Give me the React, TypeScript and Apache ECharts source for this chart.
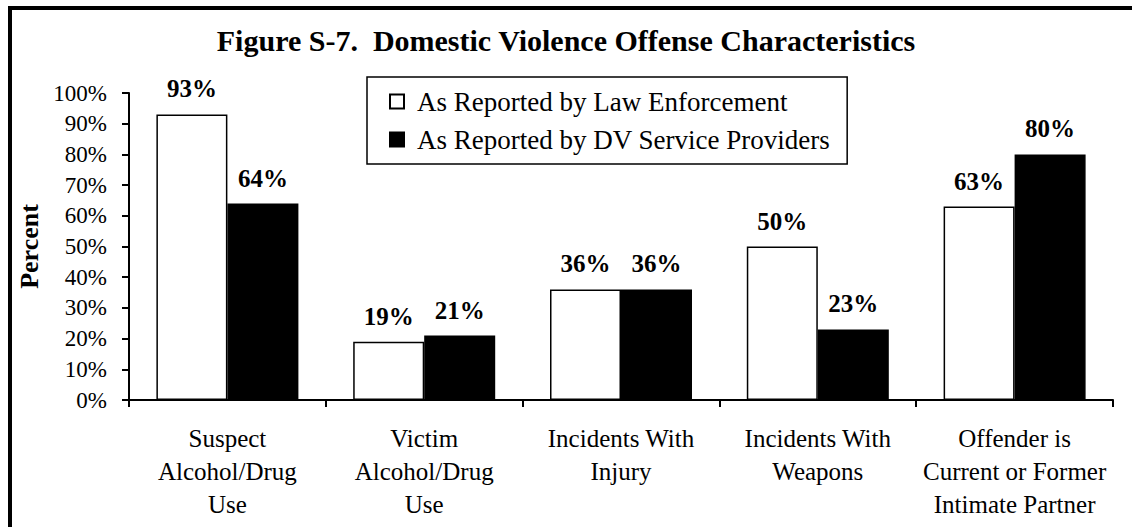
import React, { useEffect, useRef } from "react";
import * as echarts from "echarts";

const categories = [
  "Suspect\nAlcohol/Drug\nUse",
  "Victim\nAlcohol/Drug\nUse",
  "Incidents With\nInjury",
  "Incidents With\nWeapons",
  "Offender is\nCurrent or Former\nIntimate Partner",
];
const lawEnforcement = [93, 19, 36, 50, 63];
const dvProviders = [64, 21, 36, 23, 80];
const seriesNames = ["As Reported by Law Enforcement", "As Reported by DV Service Providers"];
const titleText = "Figure S-7.  Domestic Violence Offense Characteristics";
const yAxisName = "Percent";

const FONT = "Liberation Serif";

export default function App() {
  const ref = useRef<HTMLDivElement>(null);
  useEffect(() => {
    if (!ref.current) return;
    const chart = echarts.init(ref.current, null, { renderer: "svg" });
    const valueLabel = {
      show: true,
      position: "top",
      distance: 13,
      formatter: "{c}%",
      fontFamily: FONT,
      fontWeight: "bold",
      fontSize: 25,
      color: "#000",
    };
    chart.setOption({
      animation: false,
      backgroundColor: "#fff",
      textStyle: { fontFamily: FONT },
      title: {
        text: titleText,
        left: "center",
        top: 20,
        textStyle: { fontFamily: FONT, fontWeight: "bold", fontSize: 30, color: "#000" },
      },
      legend: {
        orient: "vertical",
        left: 367,
        top: 77,
        padding: [11, 17, 11, 22],
        itemGap: 11,
        itemWidth: 14,
        itemHeight: 14,
        borderColor: "#000",
        borderWidth: 1.5,
        backgroundColor: "#fff",
        icon: "rect",
        textStyle: { fontFamily: FONT, fontSize: 27, color: "#000", padding: [0, 0, 0, 8] },
        data: seriesNames,
      },
      grid: { left: 129, right: 19, top: 93, bottom: 127 },
      xAxis: {
        type: "category",
        data: categories,
        axisLine: { lineStyle: { color: "#000", width: 2 } },
        axisTick: { show: true, length: 7, lineStyle: { color: "#000", width: 2 } },
        axisLabel: {
          interval: 0,
          margin: 22,
          fontFamily: FONT,
          fontSize: 25,
          lineHeight: 33,
          color: "#000",
        },
      },
      yAxis: {
        type: "value",
        min: 0,
        max: 100,
        interval: 10,
        name: yAxisName,
        nameLocation: "middle",
        nameGap: 85,
        nameRotate: 90,
        nameTextStyle: { fontFamily: FONT, fontWeight: "bold", fontSize: 26, color: "#000" },
        splitLine: { show: false },
        axisLine: { show: true, lineStyle: { color: "#000", width: 2 } },
        axisTick: { show: true, length: 7, lineStyle: { color: "#000", width: 2 } },
        axisLabel: {
          margin: 22,
          formatter: "{value}%",
          fontFamily: FONT,
          fontSize: 23,
          color: "#000",
        },
      },
      series: [
        {
          name: seriesNames[0],
          type: "bar",
          data: lawEnforcement,
          barWidth: 71,
          barGap: "0%",
          itemStyle: { color: "#fff", borderColor: "#000", borderWidth: 1.5 },
          label: valueLabel,
        },
        {
          name: seriesNames[1],
          type: "bar",
          data: dvProviders,
          barWidth: 71,
          barGap: "0%",
          itemStyle: { color: "#000", borderColor: "#000", borderWidth: 1.5 },
          label: valueLabel,
        },
      ],
      graphic: [
        { type: "rect", left: 8, top: 6, shape: { width: 4, height: 521 }, style: { fill: "#000" } },
        { type: "rect", left: 8, top: 6, shape: { width: 1124, height: 4 }, style: { fill: "#000" } },
      ],
    });
    return () => chart.dispose();
  }, []);
  return (
    <div
      ref={ref}
      style={{ position: "absolute", left: 0, top: 0, width: 1132, height: 527, background: "#fff" }}
    />
  );
}
